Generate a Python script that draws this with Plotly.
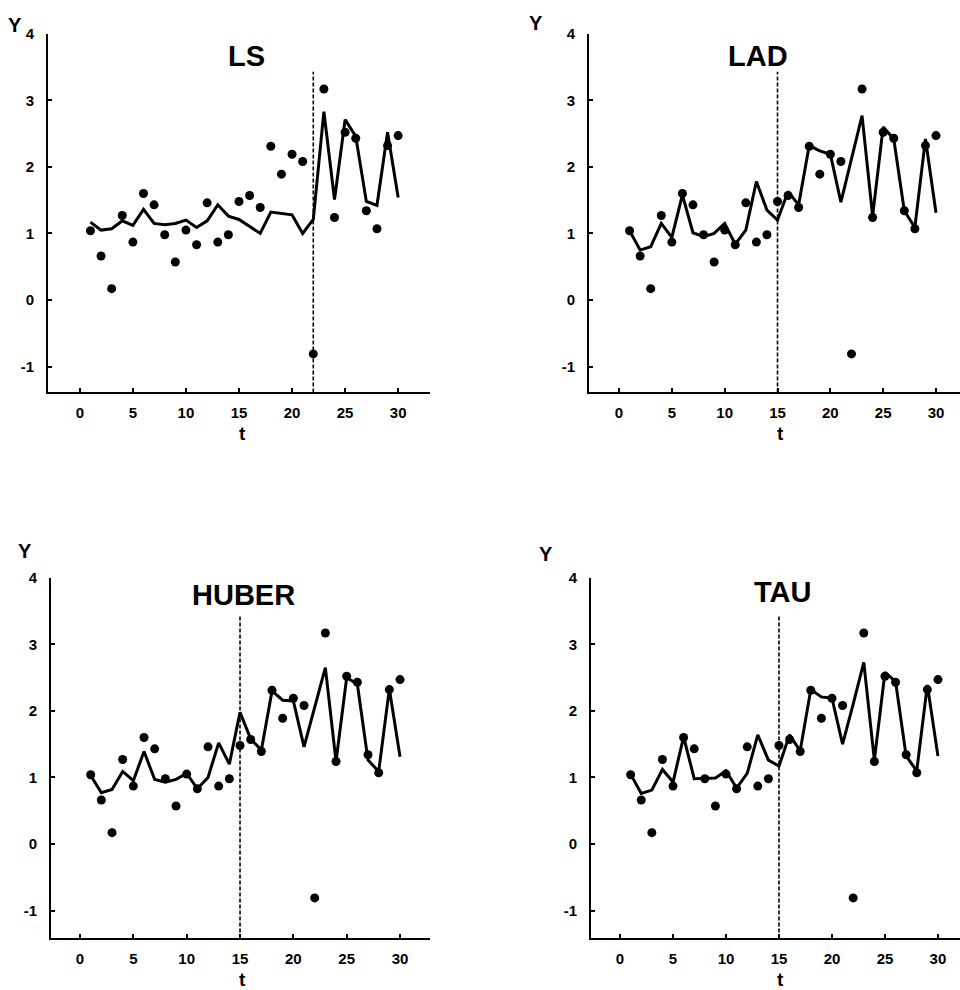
import plotly.graph_objects as go

t = list(range(1, 31))
y_obs = [1.04, 0.66, 0.17, 1.27, 0.87, 1.60, 1.43, 0.98, 0.57, 1.05,
         0.83, 1.46, 0.87, 0.98, 1.48, 1.57, 1.39, 2.31, 1.89, 2.19,
         2.08, -0.81, 3.17, 1.24, 2.52, 2.43, 1.34, 1.07, 2.32, 2.47]

fit_ls = [1.17, 1.05, 1.07, 1.19, 1.12, 1.36, 1.15, 1.13, 1.15, 1.20,
          1.09, 1.19, 1.43, 1.26, 1.21, 1.10, 1.00, 1.32, 1.30, 1.28,
          1.00, 1.21, 2.83, 1.51, 2.71, 2.46, 1.48, 1.42, 2.52, 1.54]
fit_lad = [1.04, 0.75, 0.80, 1.15, 0.94, 1.58, 1.01, 0.95, 1.00, 1.15,
           0.84, 1.05, 1.78, 1.35, 1.20, 1.63, 1.43, 2.32, 2.24, 2.19,
           1.47, 2.12, 2.77, 1.26, 2.60, 2.42, 1.34, 1.09, 2.42, 1.31]
fit_huber = [1.03, 0.77, 0.82, 1.09, 0.95, 1.39, 0.97, 0.93, 0.97, 1.06,
             0.83, 1.00, 1.52, 1.20, 1.98, 1.58, 1.41, 2.30, 2.16, 2.15,
             1.46, 2.05, 2.65, 1.24, 2.50, 2.40, 1.26, 1.09, 2.33, 1.31]
fit_tau = [1.05, 0.76, 0.81, 1.12, 0.93, 1.61, 0.98, 0.98, 0.99, 1.10,
           0.84, 1.06, 1.64, 1.26, 1.17, 1.64, 1.40, 2.32, 2.21, 2.19,
           1.50, 2.10, 2.73, 1.26, 2.58, 2.44, 1.32, 1.10, 2.39, 1.32]

titles = ["LS", "LAD", "HUBER", "TAU"]
fits = [fit_ls, fit_lad, fit_huber, fit_tau]
breaks = [22, 15, 15, 15]
break_top = 3.43

x_ticks = [0, 5, 10, 15, 20, 25, 30]
x_labels = ["0", "5", "10", "15", "20", "25", "30"]
y_ticks = [-1, 0, 1, 2, 3, 4]
y_labels = ["-1", "0", "1", "2", "3", "4"]

W, H = 960, 990
# panel geometry in pixels: (left, right, top, bottom), x range, y range
panels = [
    dict(l=48, r=430, top=25, bot=387, xr=[-3.0, 33.0], yr=[-1.39, 4]),
    dict(l=589, r=960, top=25, bot=387, xr=[-2.84, 32.27], yr=[-1.39, 4]),
    dict(l=51, r=430, top=574, bot=938, xr=[-2.72, 32.81], yr=[-1.42, 4]),
    dict(l=591, r=960, top=574, bot=938, xr=[-2.74, 32.08], yr=[-1.42, 4]),
]
title_pos = [(247, 47), (758, 47), (243, 591), (782, 588)]
ylab_pos = [(15, 16), (536, 14), (25, 547), (546, 550)]
tlab_pos = [(242, 428), (780, 428), (242, 979), (780, 979)]

FONT = "Liberation Sans, Arial, sans-serif"

fig = go.Figure()
layout = dict(width=W, height=H, margin=dict(l=0, r=0, t=0, b=0),
              paper_bgcolor="white", plot_bgcolor="white", showlegend=False)
shapes = []
annotations = []

for i, p in enumerate(panels):
    n = "" if i == 0 else str(i + 1)
    xa, ya = "x" + n, "y" + n
    fig.add_trace(go.Scatter(x=t, y=y_obs, mode="markers", xaxis=xa, yaxis=ya,
                             marker=dict(color="black", size=9, symbol="circle")))
    fig.add_trace(go.Scatter(x=t, y=fits[i], mode="lines", xaxis=xa, yaxis=ya,
                             line=dict(color="black", width=3)))
    layout["xaxis" + n] = dict(
        domain=[p["l"] / W, p["r"] / W], range=p["xr"], anchor=ya,
        tickvals=x_ticks, ticktext=x_labels, ticks="inside", ticklen=4, tickwidth=1.5,
        tickcolor="black",
        showline=True, linecolor="black", linewidth=2, showgrid=False, zeroline=False,
        tickfont=dict(family=FONT, size=15, color="black", weight="bold"),
        ticklabelstandoff=6,
    )
    layout["yaxis" + n] = dict(
        domain=[1 - p["bot"] / H, 1 - p["top"] / H], range=p["yr"], anchor=xa,
        tickvals=y_ticks, ticktext=y_labels, ticks="inside", ticklen=4, tickwidth=1.5,
        tickcolor="black",
        showline=True, linecolor="black", linewidth=2, showgrid=False, zeroline=False,
        tickfont=dict(family=FONT, size=15, color="black", weight="bold"),
        ticklabelstandoff=9,
    )
    shapes.append(dict(type="line", xref=xa, yref=ya, x0=breaks[i], x1=breaks[i],
                       y0=p["yr"][0], y1=break_top,
                       line=dict(color="black", width=1.6, dash="4px,2px")))
    tx, ty = title_pos[i]
    annotations.append(dict(text=titles[i], x=tx / W, y=1 - ty / H, xref="paper", yref="paper",
                            showarrow=False, xanchor="center", yanchor="middle",
                            font=dict(family=FONT, size=29, color="black", weight="bold")))
    yx, yy = ylab_pos[i]
    annotations.append(dict(text="Y", x=yx / W, y=1 - yy / H, xref="paper", yref="paper",
                            showarrow=False, xanchor="center", yanchor="middle",
                            font=dict(family=FONT, size=20, color="black", weight="bold")))
    lx, ly = tlab_pos[i]
    annotations.append(dict(text="t", x=lx / W, y=1 - ly / H, xref="paper", yref="paper",
                            showarrow=False, xanchor="center", yanchor="middle",
                            font=dict(family=FONT, size=19, color="black", weight="bold")))

layout["shapes"] = shapes
layout["annotations"] = annotations
fig.update_layout(**layout)
fig.write_html("out.html", config={"displayModeBar": False},
               post_script="document.body.style.margin='0';document.body.style.overflow='hidden';")
